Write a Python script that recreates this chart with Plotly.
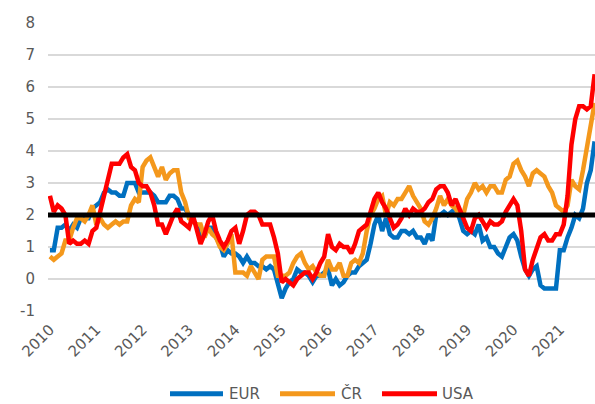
import plotly.graph_objects as go

# měsíční meziroční inflace (%), leden 2010 - říjen 2021
years = [str(y) for y in range(2010, 2022)]

eur = [
    0.9, 0.9, 1.6, 1.6, 1.7, 1.5, 1.7, 1.6, 1.9, 1.9, 1.9, 2.2,
    2.3, 2.4, 2.7, 2.8, 2.7, 2.7, 2.6, 2.6, 3.0, 3.0, 3.0, 2.7,
    2.7, 2.7, 2.7, 2.6, 2.4, 2.4, 2.4, 2.6, 2.6, 2.5, 2.2, 2.2,
    2.0, 1.8, 1.7, 1.2, 1.4, 1.6, 1.6, 1.3, 1.1, 0.7, 0.9, 0.8,
    0.8, 0.7, 0.5, 0.7, 0.5, 0.5, 0.4, 0.4, 0.3, 0.4, 0.3, -0.2,
    -0.6, -0.3, -0.1, 0.0, 0.3, 0.2, 0.2, 0.1, -0.1, 0.1, 0.1, 0.2,
    0.3, -0.2, 0.0, -0.2, -0.1, 0.1, 0.2, 0.2, 0.4, 0.5, 0.6, 1.1,
    1.7, 2.0, 1.5, 1.9, 1.4, 1.3, 1.3, 1.5, 1.5, 1.4, 1.5, 1.3,
    1.3, 1.1, 1.4, 1.2, 2.0, 2.0, 2.1, 2.0, 2.1, 2.2, 1.9, 1.5,
    1.4, 1.5, 1.4, 1.7, 1.2, 1.3, 1.0, 1.0, 0.8, 0.7, 1.0, 1.3,
    1.4, 1.2, 0.7, 0.3, 0.1, 0.3, 0.4, -0.2, -0.3, -0.3, -0.3, -0.3,
    0.9, 0.9, 1.3, 1.6, 2.0, 1.9, 2.2, 3.0, 3.4, 4.3,
]

cr = [
    0.7, 0.6, 0.7, 0.8, 1.2, 1.2, 1.6, 1.9, 1.9, 1.8, 2.0, 2.3,
    1.7, 1.9, 1.7, 1.6, 1.7, 1.8, 1.7, 1.8, 1.8, 2.3, 2.5, 2.4,
    3.5, 3.7, 3.8, 3.5, 3.2, 3.5, 3.1, 3.3, 3.4, 3.4, 2.7, 2.4,
    1.9, 1.8, 1.7, 1.7, 1.3, 1.6, 1.4, 1.3, 1.0, 0.9, 1.1, 1.4,
    0.2, 0.2, 0.2, 0.1, 0.4, 0.2, 0.0, 0.6, 0.7, 0.7, 0.7, 0.1,
    0.1, 0.1, 0.2, 0.5, 0.7, 0.8, 0.5, 0.3, 0.4, 0.2, 0.1, 0.1,
    0.6, 0.3, 0.3, 0.5, 0.1, 0.1, 0.5, 0.6, 0.5, 0.8, 1.5, 2.0,
    2.2, 2.5, 2.6, 2.0, 2.4, 2.3, 2.5, 2.5, 2.7, 2.9, 2.6, 2.4,
    2.2, 1.8, 1.7, 1.9, 2.2, 2.6, 2.3, 2.5, 2.3, 2.2, 2.0, 2.0,
    2.5, 2.7, 3.0, 2.8, 2.9, 2.7, 2.9, 2.9, 2.7, 2.7, 3.1, 3.2,
    3.6, 3.7, 3.4, 3.2, 2.9, 3.3, 3.4, 3.3, 3.2, 2.9, 2.7, 2.3,
    2.2, 2.1, 2.3, 3.1, 2.9, 2.8, 3.4, 4.1, 4.8, 5.5,
]

usa = [
    2.6, 2.1, 2.3, 2.2, 2.0, 1.1, 1.2, 1.1, 1.1, 1.2, 1.1, 1.5,
    1.6, 2.1, 2.7, 3.2, 3.6, 3.6, 3.6, 3.8, 3.9, 3.5, 3.4, 3.0,
    2.9, 2.9, 2.7, 2.3, 1.7, 1.7, 1.4, 1.7, 2.0, 2.2, 1.8, 1.7,
    1.6, 2.0, 1.5, 1.1, 1.4, 1.8, 2.0, 1.5, 1.2, 1.0, 1.2, 1.5,
    1.6, 1.1, 1.5, 2.0, 2.1, 2.1, 2.0, 1.7, 1.7, 1.7, 1.3, 0.8,
    -0.1, 0.0, -0.1, -0.2, 0.0, 0.1, 0.2, 0.2, 0.0, 0.2, 0.5, 0.7,
    1.4, 1.0, 0.9, 1.1, 1.0, 1.0, 0.8, 1.1, 1.5, 1.6, 1.7, 2.1,
    2.5, 2.7, 2.4, 2.2, 1.9, 1.6, 1.7, 1.9, 2.2, 2.0, 2.2, 2.1,
    2.1, 2.2, 2.4, 2.5, 2.8, 2.9, 2.9, 2.7, 2.3, 2.5, 2.2, 1.9,
    1.6, 1.5, 1.9, 2.0, 1.8, 1.6, 1.8, 1.7, 1.7, 1.8, 2.1, 2.3,
    2.5, 2.3, 1.5, 0.3, 0.1, 0.6, 1.0, 1.3, 1.4, 1.2, 1.2, 1.4,
    1.4, 1.7, 2.6, 4.2, 5.0, 5.4, 5.4, 5.3, 5.4, 6.4,
]

target = 2  # inflační cíl

y_ticks = list(range(-1, 9))
y_labels = [str(v) for v in y_ticks]  # obyčejný spojovník u "-1"

months = list(range(len(eur)))
font = "DejaVu Sans, Verdana, sans-serif"
grey = "#595959"

series = [("EUR", eur, "#0070C0"), ("ČR", cr, "#F4981C"), ("USA", usa, "#FF0000")]

fig = go.Figure()
for name, vals, color in series:
    fig.add_trace(go.Scatter(x=months, y=vals, mode="lines", name=name,
                             line=dict(color=color, width=4.5), showlegend=False))

# vodorovná čára na úrovni cíle
fig.add_hline(y=target, line=dict(color="black", width=5), layer="above")

# vlastní legenda (delší čárky jako v Excelu)
leg_y = -0.287
legend_pos = [(170, 223, 228), (280, 335, 340), (382, 437, 441)]
for (x0, x1, xt), (name, vals, color) in zip(legend_pos, series):
    fig.add_shape(type="line", xref="paper", yref="paper",
                  x0=(x0 - 48) / 547, x1=(x1 - 48) / 547, y0=leg_y, y1=leg_y,
                  line=dict(color=color, width=5))
    fig.add_annotation(xref="paper", yref="paper", x=(xt - 48) / 547, y=leg_y,
                       text=name, showarrow=False, xanchor="left", yanchor="middle",
                       borderpad=0, font=dict(family=font, size=15, color=grey))

fig.update_layout(
    width=595, height=404,
    margin=dict(l=48, r=0, t=23, b=93),
    plot_bgcolor="white", paper_bgcolor="white",
    font=dict(family=font, size=15, color=grey),
)
fig.update_xaxes(range=[-0.5, 141.1], tickvals=list(range(0, len(eur), 12)),
                 ticktext=years, tickangle=-45, showgrid=False, zeroline=False,
                 showline=False, ticks="", ticklabelstandoff=6)
fig.update_yaxes(range=[-1, 8], tickvals=y_ticks, ticktext=y_labels,
                 gridcolor="#D9D9D9", gridwidth=1.5,
                 zeroline=False, showline=False, ticks="", ticklabelstandoff=12)

fig.write_html("out.html", config={"displayModeBar": False},
               post_script="document.body.style.margin='0';")
